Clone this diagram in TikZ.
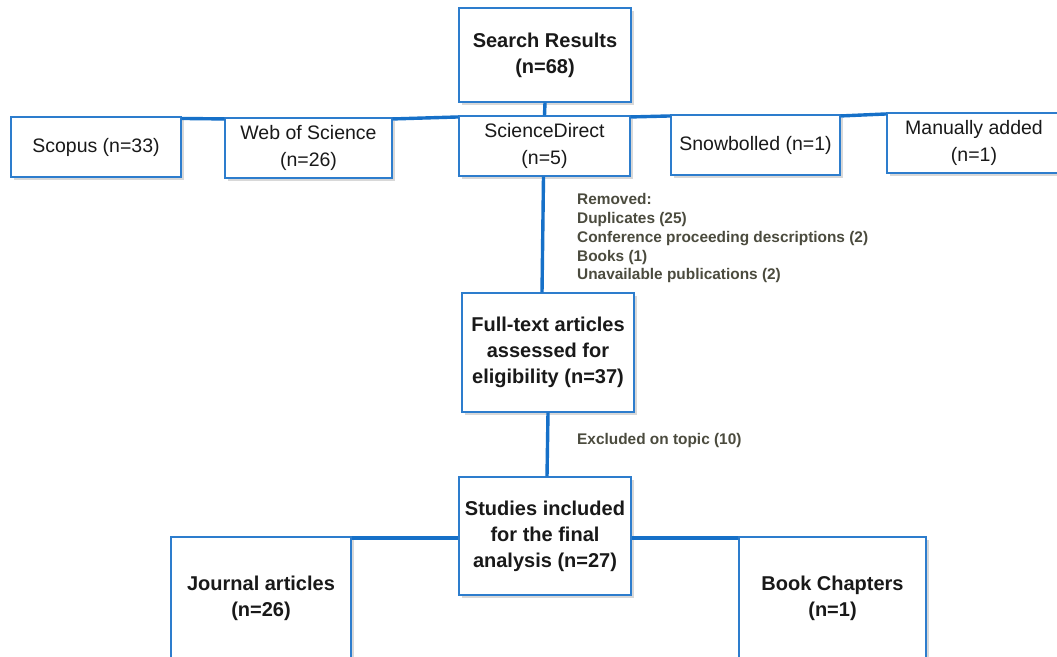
\documentclass[tikz,border=0pt]{standalone}
\usepackage{fontspec}
\setmainfont{Liberation Sans}
\usetikzlibrary{shadows,calc}
\definecolor{boxblue}{RGB}{45,125,205}
\definecolor{lineblue}{RGB}{22,112,200}
\definecolor{notegray}{RGB}{75,75,62}
\definecolor{txt}{RGB}{25,25,25}
\begin{document}
\begin{tikzpicture}[x=1pt,y=-1pt,
  box/.style={draw=boxblue, line width=1.1pt, fill=white, text=txt, align=center,
    inner sep=0pt, drop shadow={shadow xshift=2.5pt, shadow yshift=-2.5pt, opacity=0.3}},
  reg/.style={box, font=\fontsize{19.5}{27}\selectfont},
  bld/.style={box, font=\fontsize{20}{26}\selectfont\bfseries},
  conn/.style={draw=lineblue, line width=3.4pt},
  note/.style={text=notegray, font=\fontsize{15.4}{18.75}\selectfont\bfseries, align=left, inner sep=0pt}]
\useasboundingbox (0,0) rectangle (1057,656);
\fill[white] (0,0) rectangle (1057,656);
% nodes
\node[bld, minimum width=172pt, minimum height=94pt] (sr) at (545,55) {Search Results\\(n=68)};
\node[reg, minimum width=170pt, minimum height=60pt] (sc) at (96,147) {Scopus (n=33)};
\node[reg, minimum width=167pt, minimum height=60pt] (ws) at (308.5,148) {Web of Science\\(n=26)};
\node[reg, minimum width=171pt, minimum height=60pt] (sd) at (544.5,146) {ScienceDirect\\(n=5)};
\node[reg, minimum width=169pt, minimum height=60pt] (sn) at (755.5,145) {Snowbolled (n=1)};
\node[reg, minimum width=174pt, minimum height=60pt] (ma) at (974,143) {Manually added\\(n=1)};
\node[bld, minimum width=172pt, minimum height=119pt] (ft) at (548,352.5) {Full-text articles\\assessed for\\eligibility (n=37)};
\node[bld, minimum width=172pt, minimum height=118pt] (st) at (545,536) {Studies included\\for the final\\analysis (n=27)};
\node[bld, minimum width=180pt, minimum height=122pt] (ja) at (261,598) {Journal articles\\(n=26)};
\node[bld, minimum width=187pt, minimum height=122pt] (bc) at (832.5,598) {Book Chapters\\(n=1)};
\node[note, anchor=north west] (rem) at (577,193.5) {Removed:\\Duplicates (25)\\Conference proceeding descriptions (2)\\Books (1)\\Unavailable publications (2)};
\node[note, anchor=west] (ex) at (577,441) {Excluded on topic (10)};
% connectors
\draw[conn] (sr.south) -- (sd.north);
\draw[conn] ([yshift=-2pt]sc.north east) -- ([yshift=-1.5pt]ws.north west);
\draw[conn] ([yshift=-1.5pt]ws.north east) -- ([yshift=-1.5pt]sd.north west);
\draw[conn] ([yshift=-1.5pt]sd.north east) -- ([yshift=-1.5pt]sn.north west);
\draw[conn] ([yshift=-1.5pt]sn.north east) -- ([yshift=-1.5pt]ma.north west);
\draw[conn] ([xshift=-1pt]sd.south) -- ([xshift=-6pt]ft.north);
\draw[conn] (ft.south) -- ([xshift=2pt]st.north);
\draw[conn] ([yshift=-1.5pt]ja.north east) -- ([yshift=-1.5pt]ja.north east -| st.west);
\draw[conn] ([yshift=-1.5pt]bc.north west -| st.east) -- ([yshift=-1.5pt]bc.north west);
\end{tikzpicture}
\end{document}
